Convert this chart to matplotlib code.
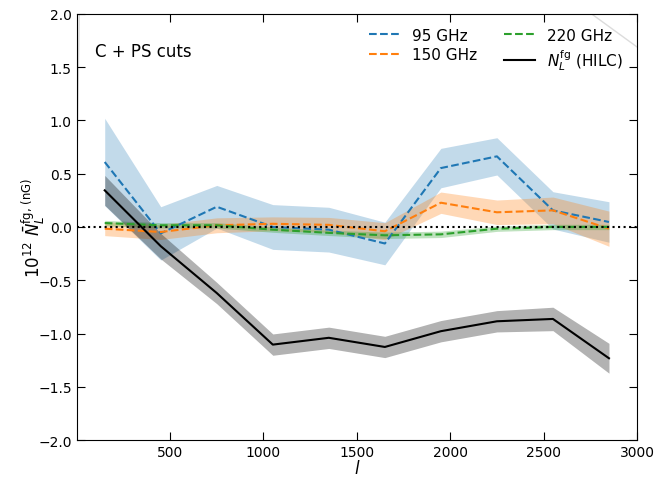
import numpy as np
import matplotlib
matplotlib.use("Agg")
import matplotlib.pyplot as plt

# bin centres
ell = [150, 450, 750, 1050, 1350, 1650, 1950, 2250, 2550, 2850]

# 95 GHz
n95 = [0.61, -0.06, 0.19, 0.0, -0.025, -0.155, 0.553, 0.663, 0.156, 0.047]
n95_err = [0.41, 0.25, 0.20, 0.21, 0.21, 0.20, 0.185, 0.175, 0.175, 0.19]
# 150 GHz
n150 = [-0.016, -0.047, 0.016, 0.03, 0.02, -0.04, 0.228, 0.138, 0.156, -0.016]
n150_err = [0.065, 0.07, 0.07, 0.065, 0.07, 0.08, 0.10, 0.115, 0.125, 0.165]
# 220 GHz
n220 = [0.037, 0.016, 0.016, -0.025, -0.055, -0.078, -0.069, -0.016, 0.0, 0.0]
n220_err = [0.025, 0.025, 0.025, 0.025, 0.025, 0.03, 0.03, 0.025, 0.025, 0.025]
# HILC
nhilc = [0.344, -0.18, -0.62, -1.104, -1.04, -1.126, -0.978, -0.885, -0.863, -1.232]
nhilc_err = [0.14, 0.12, 0.10, 0.10, 0.10, 0.10, 0.10, 0.10, 0.11, 0.14]

# faint reference curve (mostly off the plotted range)
ref_l = [2, 10, 20, 1500, 2600, 3000]
ref_val = [0.6, 1.6, 2.6, 3.5, 2.2, 1.69]

series = [
    (n95, n95_err, "#1f77b4", "95 GHz", 0.27),
    (n150, n150_err, "#ff7f0e", "150 GHz", 0.3),
    (n220, n220_err, "#2ca02c", "220 GHz", 0.3),
]

fig, ax = plt.subplots(figsize=(6.67, 4.81), dpi=100)
fig.subplots_adjust(left=0.115, right=0.955, top=0.969, bottom=0.083)

ax.plot(ref_l, ref_val, color="#dcdcdc", lw=1, zorder=1)

x = np.array(ell)
for val, err, col, lab, a in series:
    val = np.array(val)
    err = np.array(err)
    ax.fill_between(x, val - err, val + err, color=col, alpha=a, lw=0)
    ax.plot(x, val, "--", color=col, lw=1.5, label=lab)

h = np.array(nhilc)
he = np.array(nhilc_err)
ax.fill_between(x, h - he, h + he, color="black", alpha=0.3, lw=0)
ax.plot(x, h, "-", color="black", lw=1.5, label=r"$N_L^{\rm fg}$ (HILC)")

ax.axhline(0, color="black", ls=":", lw=1.5)

ax.set_xlim(0, 3000)
ax.set_ylim(-2, 2)
ax.set_xticks([500, 1000, 1500, 2000, 2500, 3000])
ax.set_yticks(np.arange(-2, 2.01, 0.5))
ax.tick_params(direction="in", top=True, right=True, length=6, labelsize=10)
ax.set_xlabel(r"$l$", fontsize=12, labelpad=0)
ax.set_ylabel(r"$10^{12}\ \bar{N}_L^{\rm fg,\,(nG)}$", fontsize=12, labelpad=-7)

ax.text(0.032, 0.913, "C + PS cuts", transform=ax.transAxes, fontsize=12,
        va="center", ha="left")
ax.legend(ncol=2, loc="upper right", frameon=False, fontsize=11,
          handlelength=2.0, columnspacing=1.8, borderaxespad=0.5,
          labelspacing=0.3)

fig.savefig("out.png", dpi=100)
